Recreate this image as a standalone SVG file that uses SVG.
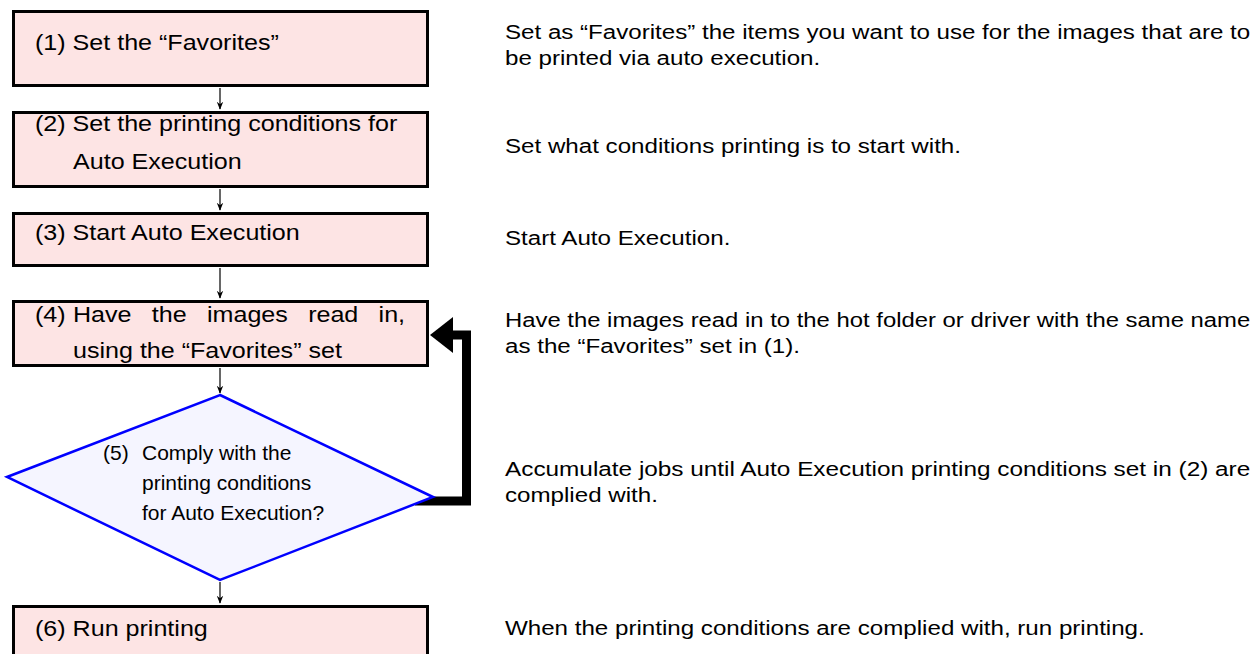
<svg xmlns="http://www.w3.org/2000/svg" width="1257" height="654" viewBox="0 0 1257 654">
<defs>
<style>
.box{fill:#FDE4E4;stroke:#000;stroke-width:3}
.dia{fill:#F5F5FF;stroke:#0000FF;stroke-width:2.5}
.bt{font-family:"Liberation Sans",Arial,sans-serif;font-size:22px;fill:#000}
.dt{font-family:"Liberation Sans",Arial,sans-serif;font-size:21px;fill:#000}
.ds{font-family:"Liberation Sans",Arial,sans-serif;font-size:21px;fill:#000}
.thin{stroke:#000;stroke-width:1.2;fill:none;marker-end:url(#ah)}
.loop{stroke:#000;stroke-width:9;fill:none;stroke-linejoin:miter}
</style>
<marker id="ah" viewBox="0 0 10 10" refX="9" refY="5" markerWidth="8" markerHeight="8" markerUnits="userSpaceOnUse" orient="auto">
<path d="M0,1 L10,5 L0,9 L3,5 Z" fill="#000"/>
</marker>
</defs>
<rect width="1257" height="654" fill="#fff"/>
<g id="connectors">
<line class="thin" x1="220" y1="88" x2="220" y2="109"/>
<line class="thin" x1="220" y1="189" x2="220" y2="210"/>
<line class="thin" x1="220" y1="268" x2="220" y2="298"/>
<line class="thin" x1="220" y1="368" x2="220" y2="393"/>
<line class="thin" x1="220" y1="582" x2="220" y2="603"/>
<path class="loop" d="M415 501 H466.5 V335 H450"/>
<polygon points="430,335 453,317 453,353" fill="#000"/>
</g>
<g id="n1">
<rect class="box" x="13.5" y="11.5" width="414" height="74"/>
<text class="bt" transform="translate(35,50) scale(1.14,1)">(1) Set the “Favorites”</text>
</g>
<g id="n2">
<rect class="box" x="13.5" y="112.5" width="414" height="74"/>
<text class="bt" transform="translate(35,131) scale(1.14,1)">(2) Set the printing conditions for</text>
<text class="bt" transform="translate(73,169) scale(1.14,1)">Auto Execution</text>
</g>
<g id="n3">
<rect class="box" x="13.5" y="213.5" width="414" height="52"/>
<text class="bt" transform="translate(35,240) scale(1.14,1)">(3) Start Auto Execution</text>
</g>
<g id="n4">
<rect class="box" x="13.5" y="301.5" width="414" height="64"/>
<text class="bt" transform="translate(35,322) scale(1.14,1)"><tspan x="0">(4)</tspan><tspan x="33.3">Have</tspan><tspan x="102.5">the</tspan><tspan x="150.9">images</tspan><tspan x="239.6">read</tspan><tspan x="301.4">in,</tspan></text>
<text class="bt" transform="translate(73,358) scale(1.14,1)">using the “Favorites” set</text>
</g>
<g id="n5">
<polygon class="dia" points="220,395 433,497 220,580 7,477"/>
<text class="dt" x="103" y="460">(5)</text>
<text class="dt" x="142" y="460">Comply with the</text>
<text class="dt" x="142" y="490">printing conditions</text>
<text class="dt" x="142" y="520">for Auto Execution?</text>
</g>
<g id="n6">
<rect class="box" x="13.5" y="606.5" width="414" height="60"/>
<text class="bt" transform="translate(35,636) scale(1.14,1)">(6) Run printing</text>
</g>
<g id="descriptions">
<text class="ds" transform="translate(505,39) scale(1.15,1)" textLength="648" lengthAdjust="spacingAndGlyphs">Set as “Favorites” the items you want to use for the images that are to</text>
<text class="ds" transform="translate(505,65) scale(1.15,1)">be printed via auto execution.</text>
<text class="ds" transform="translate(505,153) scale(1.15,1)">Set what conditions printing is to start with.</text>
<text class="ds" transform="translate(505,245) scale(1.15,1)">Start Auto Execution.</text>
<text class="ds" transform="translate(505,327) scale(1.15,1)" textLength="648" lengthAdjust="spacingAndGlyphs">Have the images read in to the hot folder or driver with the same name</text>
<text class="ds" transform="translate(505,353) scale(1.15,1)">as the “Favorites” set in (1).</text>
<text class="ds" transform="translate(505,476) scale(1.15,1)" textLength="648" lengthAdjust="spacingAndGlyphs">Accumulate jobs until Auto Execution printing conditions set in (2) are</text>
<text class="ds" transform="translate(505,502) scale(1.15,1)">complied with.</text>
<text class="ds" transform="translate(505,635) scale(1.15,1)">When the printing conditions are complied with, run printing.</text>
</g>
</svg>
